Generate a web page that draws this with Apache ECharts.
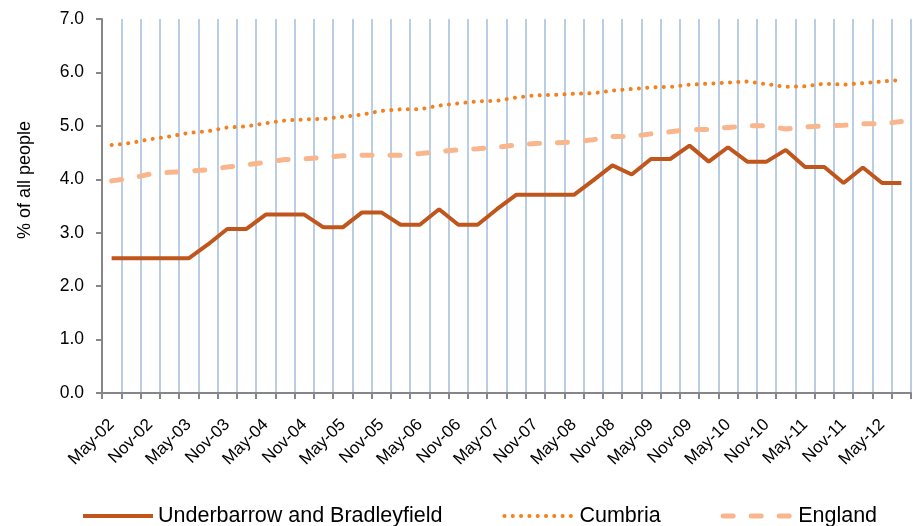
<!DOCTYPE html>
<html>
<head>
<meta charset="utf-8">
<script src="https://cdn.jsdelivr.net/npm/echarts@6/dist/echarts.min.js"></script>
<style>
    html, body { margin: 0; padding: 0; background: #fff; }
    #chart { width: 913px; height: 526px; }
</style>
</head>
<body>
<div id="chart"></div>
<script>
    // quarterly categories, May-02 .. Aug-12
    var categories = [
        'May-02', 'Aug-02', 'Nov-02', 'Feb-03', 'May-03', 'Aug-03', 'Nov-03', 'Feb-04',
        'May-04', 'Aug-04', 'Nov-04', 'Feb-05', 'May-05', 'Aug-05', 'Nov-05', 'Feb-06',
        'May-06', 'Aug-06', 'Nov-06', 'Feb-07', 'May-07', 'Aug-07', 'Nov-07', 'Feb-08',
        'May-08', 'Aug-08', 'Nov-08', 'Feb-09', 'May-09', 'Aug-09', 'Nov-09', 'Feb-10',
        'May-10', 'Aug-10', 'Nov-10', 'Feb-11', 'May-11', 'Aug-11', 'Nov-11', 'Feb-12',
        'May-12', 'Aug-12'
    ];

    var underbarrow = [
        2.52, 2.52, 2.52, 2.52, 2.52, 2.78, 3.07, 3.07, 3.34, 3.34,
        3.34, 3.10, 3.10, 3.38, 3.38, 3.15, 3.15, 3.44, 3.15, 3.15,
        3.44, 3.71, 3.71, 3.71, 3.71, 3.98, 4.26, 4.09, 4.38, 4.38,
        4.63, 4.33, 4.60, 4.33, 4.33, 4.55, 4.23, 4.23, 3.93, 4.22,
        3.93, 3.93
    ];

    var cumbria = [
        4.64, 4.68, 4.75, 4.80, 4.87, 4.90, 4.97, 4.99, 5.05, 5.10,
        5.12, 5.13, 5.17, 5.21, 5.28, 5.31, 5.31, 5.38, 5.42, 5.46,
        5.47, 5.53, 5.57, 5.58, 5.60, 5.61, 5.66, 5.69, 5.72, 5.73,
        5.77, 5.79, 5.81, 5.83, 5.78, 5.73, 5.74, 5.79, 5.77, 5.80,
        5.83, 5.86
    ];

    var england = [
        3.97, 4.02, 4.10, 4.13, 4.15, 4.18, 4.23, 4.27, 4.32, 4.37,
        4.38, 4.41, 4.44, 4.45, 4.45, 4.45, 4.48, 4.52, 4.55, 4.57,
        4.60, 4.64, 4.67, 4.68, 4.70, 4.74, 4.80, 4.80, 4.85, 4.89,
        4.93, 4.93, 4.97, 5.00, 5.00, 4.94, 4.98, 5.00, 5.01, 5.04,
        5.04, 5.08
    ];

    var font = 'Liberation Sans, Arial, sans-serif';
    var chart = echarts.init(document.getElementById('chart'));

    var solidLine = { color: '#C0561C', width: 4 };
    var dottedLine = { color: '#F5801F', width: 4, type: [0.1, 8.2], cap: 'round' };
    var dashedLine = { color: '#F9B68C', width: 5, type: [10, 18], cap: 'round' };

    var option = {
        animation: false,
        textStyle: { fontFamily: font },
        grid: {
            left: 102,
            right: 2,
            top: 19,
            bottom: 133,
            containLabel: false
        },
        legend: {
            left: 76,
            top: 500,
            itemWidth: 70,
            itemHeight: 14,
            itemGap: 60,
            itemStyle: { opacity: 0 },
            textStyle: { fontSize: 21.5, color: '#000', fontFamily: font },
            data: [
                { name: 'Underbarrow and Bradleyfield', lineStyle: solidLine },
                { name: 'Cumbria', lineStyle: dottedLine },
                { name: 'England', lineStyle: dashedLine }
            ]
        },
        xAxis: {
            type: 'category',
            boundaryGap: true,
            data: categories,
            axisLine: { lineStyle: { color: '#868686', width: 2 } },
            axisTick: { show: true, interval: 0, length: 6, lineStyle: { color: '#868686', width: 2 } },
            axisLabel: {
                interval: 1,
                rotate: 45,
                margin: 29,
                fontSize: 17,
                color: '#000',
                fontFamily: font
            },
            splitLine: {
                show: true,
                interval: 0,
                lineStyle: { color: '#B9CDE5', width: 2 }
            }
        },
        yAxis: {
            type: 'value',
            min: 0,
            max: 7,
            interval: 1,
            name: '% of all people',
            nameLocation: 'middle',
            nameRotate: 90,
            nameGap: 68,
            nameTextStyle: { fontSize: 18, color: '#000', fontFamily: font, padding: [0, 0, 0, 52] },
            axisLine: { show: true, lineStyle: { color: '#868686', width: 2 } },
            axisTick: { show: true, length: 6, lineStyle: { color: '#868686', width: 2 } },
            axisLabel: {
                margin: 18,
                fontSize: 17.5,
                color: '#000',
                fontFamily: font,
                formatter: function (v) { return v.toFixed(1); }
            },
            splitLine: { show: false }
        },
        series: [
            {
                name: 'Underbarrow and Bradleyfield',
                type: 'line',
                data: underbarrow,
                symbol: 'none',
                color: '#C0561C',
                lineStyle: solidLine
            },
            {
                name: 'Cumbria',
                type: 'line',
                data: cumbria,
                symbol: 'none',
                color: '#F5801F',
                lineStyle: dottedLine
            },
            {
                name: 'England',
                type: 'line',
                data: england,
                symbol: 'none',
                color: '#F9B68C',
                lineStyle: dashedLine
            }
        ]
    };

    chart.setOption(option);
</script>
</body>
</html>
